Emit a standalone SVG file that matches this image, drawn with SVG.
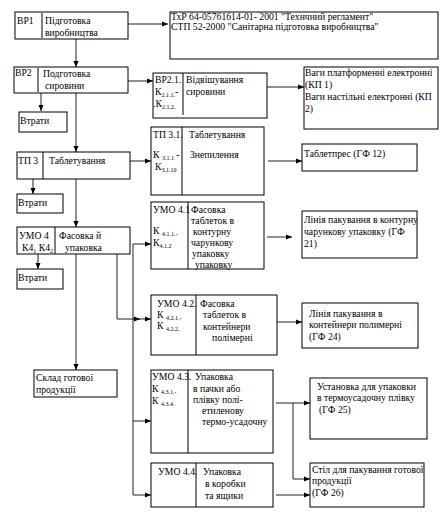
<svg xmlns="http://www.w3.org/2000/svg" width="447" height="515" viewBox="0 0 447 515">
<defs>
<marker id="ah" markerWidth="6" markerHeight="6" refX="6" refY="3" orient="auto" markerUnits="userSpaceOnUse">
<path d="M0,0.5 L6,3 L0,5.5 Z" fill="#000"/>
</marker>
<style>
.box{fill:#fff;stroke:#000;stroke-width:1}
.div{stroke:#000;stroke-width:1}
.gdiv{stroke:#808080;stroke-width:2}
.t{font-family:"Liberation Serif","Times New Roman",serif;font-size:9.7px;fill:#000}
.s{font-size:6px}
.c{fill:none;stroke:#222;stroke-width:1}
.a{fill:none;stroke:#222;stroke-width:1;marker-end:url(#ah)}
</style>
</defs>
<rect x="0" y="0" width="447" height="515" fill="#fff"/>

<g id="connectors">
<path class="a" d="M128,24 H168"/>
<path class="a" d="M76,39 V67"/>
<path class="a" d="M128,81 H153"/>
<path class="a" d="M41,93 V111"/>
<path class="a" d="M76,93 V152"/>
<path class="a" d="M267,87 H304"/>
<path class="a" d="M130,161 H151"/>
<path class="a" d="M268,161 H302"/>
<path class="a" d="M33,179 V194"/>
<path class="a" d="M76,179 V227"/>
<path class="a" d="M38,254 V269"/>
<path class="a" d="M76,254 V370"/>
<path class="a" d="M117,252 V319 H140"/>
<path class="a" d="M133,319 H151"/>
<path class="c" d="M133,244 V495"/>
<path class="a" d="M133,244 H151"/>
<path class="a" d="M133,421 H151"/>
<path class="a" d="M133,495 H151"/>
<path class="a" d="M267,237 H292"/>
<path class="a" d="M277,322 H302"/>
<path class="a" d="M276,403 H310"/>
<path class="a" d="M293,403 V479 H310"/>
<path class="a" d="M276,495 H310"/>
</g>

<g id="vr1">
<rect class="box" x="15" y="12" width="113" height="27"/>
<line class="gdiv" x1="42" y1="13" x2="42" y2="38"/>
<text class="t" x="17" y="24">ВР1</text>
<text class="t" x="45" y="24">Підготовка</text>
<text class="t" x="45" y="36">виробництва</text>
</g>

<g id="docs">
<rect class="box" x="170" y="12" width="268" height="47"/>
<text class="t" x="171" y="20">ТхР 64-05761614-01- 2001 "Технчний регламент"</text>
<text class="t" x="171" y="30">СТП 52-2000 "Санітарна підготовка виробництва"</text>
</g>

<g id="vr2">
<rect class="box" x="14" y="67" width="114" height="26"/>
<line class="gdiv" x1="38" y1="68" x2="38" y2="92"/>
<text class="t" x="15" y="76">ВР2</text>
<text class="t" x="43" y="77">Подготовка</text>
<text class="t" x="45" y="89">сировини</text>
</g>

<g id="losses1">
<rect class="box" x="19" y="112" width="48" height="20"/>
<text class="t" x="20" y="124">Втрати</text>
</g>

<g id="vr21">
<rect class="box" x="153" y="73" width="114" height="45"/>
<line class="div" x1="183" y1="73" x2="183" y2="115"/>
<text class="t" x="155" y="83">ВР2.1.</text>
<text class="t" x="155" y="95">К<tspan class="s" dy="2">2.1.1.</tspan><tspan dy="-2">-</tspan></text>
<text class="t" x="153" y="107">.К<tspan class="s" dy="2">2.1.2.</tspan></text>
<text class="t" x="186" y="83">Відвішування</text>
<text class="t" x="186" y="95">сировини</text>
</g>

<g id="scales">
<rect class="box" x="304" y="67" width="134" height="62"/>
<text class="t" x="305" y="76">Ваги платформенні електронні</text>
<text class="t" x="305" y="88">(КП 1)</text>
<text class="t" x="305" y="100">Ваги настільні електронні (КП</text>
<text class="t" x="305" y="112">2)</text>
</g>

<g id="tp31">
<rect class="box" x="151" y="127" width="113" height="68"/>
<line class="div" x1="182" y1="127" x2="182" y2="195"/>
<text class="t" x="153" y="138">ТП 3.1.</text>
<text class="t" x="153" y="158">К <tspan class="s" dy="2">3.1.1</tspan><tspan dy="-2"> -</tspan></text>
<text class="t" x="155" y="170">К<tspan class="s" dy="2">3.1.10</tspan></text>
<text class="t" x="189" y="138">Таблетування</text>
<text class="t" x="190" y="158">Знепилення</text>
</g>

<g id="tp3">
<rect class="box" x="17" y="152" width="113" height="27"/>
<line class="div" x1="43" y1="152" x2="43" y2="179"/>
<text class="t" x="18" y="164">ТП 3</text>
<text class="t" x="49" y="164">Таблетування</text>
</g>

<g id="press">
<rect class="box" x="302" y="144" width="115" height="27"/>
<text class="t" x="304" y="157">Таблетпрес (ГФ 12)</text>
</g>

<g id="losses2">
<rect class="box" x="17" y="194" width="46" height="19"/>
<text class="t" x="18" y="206">Втрати</text>
</g>

<g id="umo4">
<rect class="box" x="17" y="227" width="113" height="27"/>
<line class="div" x1="55" y1="227" x2="55" y2="254"/>
<text class="t" x="19" y="239">УМО 4</text>
<text class="t" x="22" y="251">К4<tspan class="s" dy="2">1</tspan><tspan dy="-2"> К4</tspan><tspan class="s" dy="2">2</tspan></text>
<text class="t" x="59" y="239">Фасовка й</text>
<text class="t" x="65" y="251">упаковка</text>
</g>

<g id="losses3">
<rect class="box" x="17" y="269" width="46" height="20"/>
<text class="t" x="18" y="281">Втрати</text>
</g>

<g id="store">
<rect class="box" x="34" y="370" width="83" height="27"/>
<text class="t" x="36" y="381">Склад готової</text>
<text class="t" x="36" y="393">продукції</text>
</g>

<g id="umo41">
<rect class="box" x="151" y="202" width="113" height="67"/>
<line class="div" x1="188" y1="202" x2="188" y2="269"/>
<text class="t" x="153" y="213">УМО 4.1</text>
<text class="t" x="153" y="234">К <tspan class="s" dy="2">4.1.1.-</tspan></text>
<text class="t" x="153" y="246">К<tspan class="s" dy="2">4.1.2</tspan></text>
<text class="t" x="191" y="213">Фасовка</text>
<text class="t" x="191" y="224">таблеток в</text>
<text class="t" x="193" y="235">контурну</text>
<text class="t" x="191" y="246">чарункову</text>
<text class="t" x="192" y="257">упаковку</text>
<text class="t" x="195" y="268">упаковку</text>
</g>

<g id="line21">
<rect class="box" x="302" y="211" width="115" height="47"/>
<text class="t" x="304" y="223">Лінія пакування в контурну</text>
<text class="t" x="304" y="235">чарункову упаковку (ГФ</text>
<text class="t" x="304" y="247">21)</text>
</g>

<g id="umo42">
<rect class="box" x="151" y="295" width="126" height="60"/>
<line class="div" x1="196" y1="295" x2="196" y2="355"/>
<text class="t" x="157" y="307">УМО 4.2.</text>
<text class="t" x="157" y="318">К <tspan class="s" dy="2">4.2.1.-</tspan></text>
<text class="t" x="157" y="329">К <tspan class="s" dy="2">4.2.2.</tspan></text>
<text class="t" x="200" y="307">Фасовка</text>
<text class="t" x="203" y="318">таблеток в</text>
<text class="t" x="203" y="330">контейнери</text>
<text class="t" x="212" y="341">полімерні</text>
</g>

<g id="line24">
<rect class="box" x="302" y="303" width="116" height="45"/>
<text class="t" x="309" y="317">Лінія пакування  в</text>
<text class="t" x="309" y="328">контейнери полимерні</text>
<text class="t" x="309" y="340">(ГФ 24)</text>
</g>

<g id="umo43">
<rect class="box" x="151" y="370" width="122" height="83"/>
<line class="div" x1="188" y1="370" x2="188" y2="453"/>
<text class="t" x="152" y="380">УМО 4.3.</text>
<text class="t" x="152" y="392">К <tspan class="s" dy="2">4.3.1.-</tspan></text>
<text class="t" x="152" y="404">К <tspan class="s" dy="2">4.3.4.</tspan></text>
<text class="t" x="195" y="380">Упаковка</text>
<text class="t" x="193" y="392">в пачки  або</text>
<text class="t" x="193" y="403">плівку полі-</text>
<text class="t" x="202" y="414">етиленову</text>
<text class="t" x="202" y="425">термо-усадочну</text>
</g>

<g id="shrink">
<rect class="box" x="310" y="378" width="117" height="61"/>
<text class="t" x="317" y="390">Установка  для упаковки</text>
<text class="t" x="317" y="401">в термоусадочну плівку</text>
<text class="t" x="319" y="413">(ГФ 25)</text>
</g>

<g id="umo44">
<rect class="box" x="151" y="463" width="122" height="44"/>
<line class="div" x1="196" y1="463" x2="196" y2="507"/>
<text class="t" x="158" y="475">УМО 4.4.</text>
<text class="t" x="203" y="475">Упаковка</text>
<text class="t" x="205" y="487">в коробки</text>
<text class="t" x="205" y="499">та ящики</text>
</g>

<g id="table">
<rect class="box" x="310" y="463" width="114" height="44"/>
<text class="t" x="312" y="473">Стіл для пакування  готової</text>
<text class="t" x="312" y="484">продукції</text>
<text class="t" x="312" y="496">(ГФ 26)</text>
</g>
</svg>
